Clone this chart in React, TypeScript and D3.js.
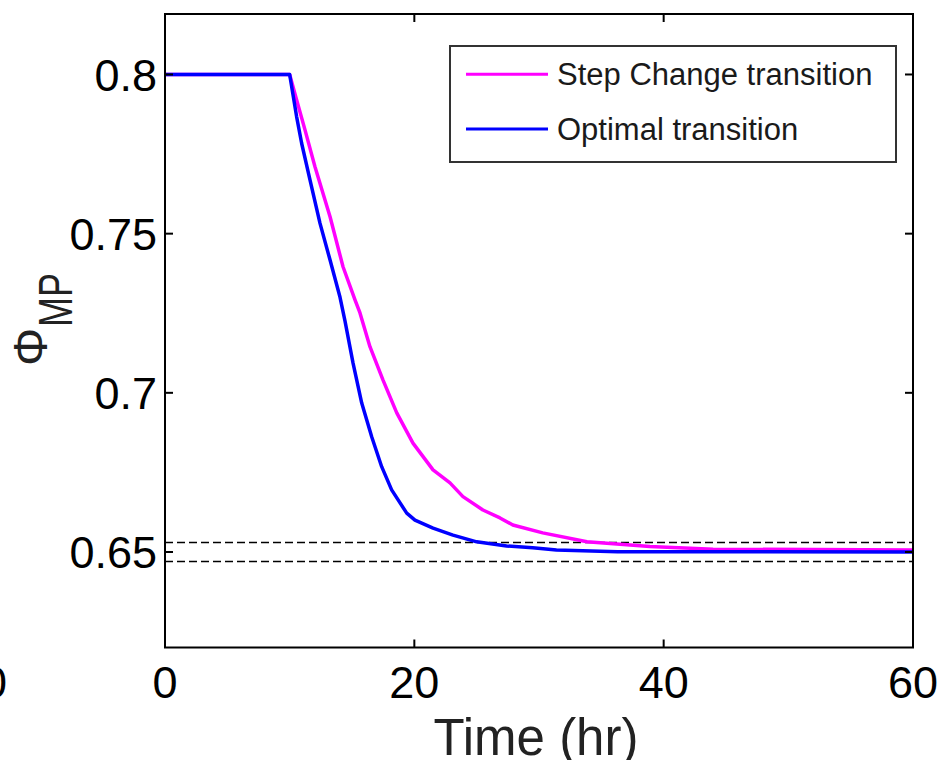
import React from "react";
import * as d3 from "d3";

const timeStep = [0, 10, 10.56, 11.23, 12.03, 13.24, 14.28, 15.24, 15.64, 16.44, 17.49, 18.59, 19.89, 21.5, 22.86, 23.9, 25.5, 26.87, 27.9, 30.3, 33.85, 38.9, 43.96, 60];
const phiStep = [0.8, 0.8, 0.792, 0.7826, 0.771, 0.7553, 0.7396, 0.7292, 0.7251, 0.7145, 0.704, 0.6937, 0.6842, 0.6758, 0.6717, 0.6674, 0.6632, 0.6607, 0.6585, 0.656, 0.6532, 0.6517, 0.6509, 0.6506];

const timeOpt = [0, 10, 10.56, 10.96, 11.63, 12.43, 13.24, 14.04, 14.44, 15.08, 15.78, 16.58, 17.38, 18.18, 19.39, 20.05, 21.5, 23.1, 25.0, 27.4, 29.5, 31.4, 36.3, 60];
const phiOpt = [0.8, 0.8, 0.7867, 0.7784, 0.7669, 0.7533, 0.7417, 0.73, 0.7225, 0.7094, 0.6968, 0.6862, 0.6768, 0.6695, 0.6622, 0.66, 0.6575, 0.6553, 0.6532, 0.6519, 0.6513, 0.6506, 0.6501, 0.65];

const xTicks = [0, 20, 40, 60];
const yTicks = [0.65, 0.7, 0.75, 0.8];
const yTickLabels = ["0.65", "0.7", "0.75", "0.8"];
const bandLevels = [0.653, 0.647];
const legendLabels = ["Step Change transition", "Optimal transition"];
const seriesColors = ["#ff00ff", "#0000ff"];

const FONT = "'Liberation Sans', Arial, Helvetica, sans-serif";

export default function App() {
  const left = 165, right = 913, top = 14, bottom = 647.5;
  const x = d3.scaleLinear().domain([0, 60]).range([left, right]);
  const y = d3.scaleLinear().domain([0.62, 0.819]).range([bottom, top]);
  const line = d3.line<[number, number]>().x(d => x(d[0])).y(d => y(d[1]));
  const stepPts = timeStep.map((t, i) => [t, phiStep[i]] as [number, number]);
  const optPts = timeOpt.map((t, i) => [t, phiOpt[i]] as [number, number]);
  const tickLen = 8;

  return (
    <svg width={941} height={760} style={{ position: "absolute", left: 0, top: 0, background: "#fff" }} fontFamily={FONT}>
      <rect x={0} y={0} width={941} height={760} fill="#fff" />
      {/* dashed band */}
      {bandLevels.map((v, i) => (
        <line key={i} x1={left} x2={right} y1={y(v)} y2={y(v)} stroke="#000" strokeWidth={1.5} strokeDasharray="8 4" />
      ))}
      {/* series */}
      <path d={line(stepPts) || ""} fill="none" stroke={seriesColors[0]} strokeWidth={3.5} strokeLinejoin="round" />
      <path d={line(optPts) || ""} fill="none" stroke={seriesColors[1]} strokeWidth={3.5} strokeLinejoin="round" />
      {/* box */}
      <rect x={left} y={top} width={right - left} height={bottom - top} fill="none" stroke="#000" strokeWidth={2} />
      {/* ticks */}
      {xTicks.map(t => (
        <g key={"x" + t}>
          <line x1={x(t)} x2={x(t)} y1={bottom} y2={bottom - tickLen} stroke="#000" strokeWidth={2} />
          <line x1={x(t)} x2={x(t)} y1={top} y2={top + tickLen} stroke="#000" strokeWidth={2} />
          <text x={x(t)} y={698} textAnchor="middle" fontSize={45} fill="#000">{t}</text>
        </g>
      ))}
      {yTicks.map((v, i) => (
        <g key={"y" + v}>
          <line x1={left} x2={left + tickLen} y1={y(v)} y2={y(v)} stroke="#000" strokeWidth={2} />
          <line x1={right} x2={right - tickLen} y1={y(v)} y2={y(v)} stroke="#000" strokeWidth={2} />
          <text x={157} y={y(v)} dy="0.36em" textAnchor="end" fontSize={45} fill="#000">{yTickLabels[i]}</text>
        </g>
      ))}
      {/* clipped fragment of neighbouring label */}
      <text x={7} y={698} textAnchor="end" fontSize={45} fill="#000">0</text>
      {/* axis labels */}
      <text x={536} y={755} textAnchor="middle" fontSize={51} fill="#222">Time (hr)</text>
      <g transform="rotate(-90)">
        <text x={-366} y={47} fontSize={48} fill="#222">Φ</text>
        <text x={-327} y={72} fontSize={48} fill="#222" textLength={54} lengthAdjust="spacingAndGlyphs">MP</text>
      </g>
      {/* legend */}
      <rect x={450} y={46} width={446} height={116} fill="#fff" stroke="#333" strokeWidth={2} />
      {legendLabels.map((lab, i) => {
        const ly = i === 0 ? 74.3 : 129;
        return (
          <g key={lab}>
            <line x1={466} x2={548} y1={ly} y2={ly} stroke={seriesColors[i]} strokeWidth={3} />
            <text x={557} y={ly} dy="0.36em" fontSize={31} fill="#1a1a1a">{lab}</text>
          </g>
        );
      })}
    </svg>
  );
}
